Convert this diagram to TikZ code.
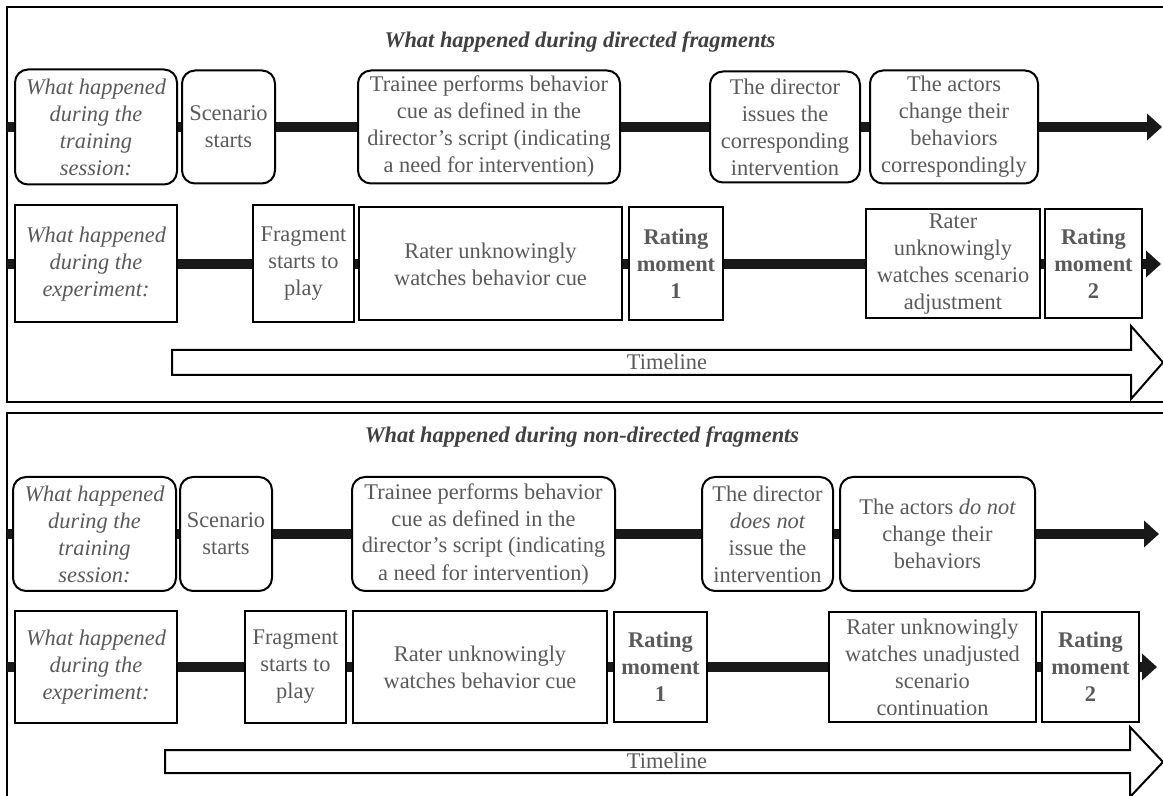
\documentclass[tikz,border=0pt]{standalone}
\usepackage{fontspec}
\setmainfont{Liberation Serif}
\usetikzlibrary{arrows.meta}
\definecolor{StepText}{HTML}{5A5A5A}
\definecolor{TitleText}{HTML}{404040}
\newcommand\stepfont{\fontsize{11.2}{13.5}\selectfont}
\tikzset{
  panel/.style={draw=black, line width=1pt},
  paneltitle/.style={font=\stepfont\bfseries\itshape, text=TitleText},
  stepround/.style={draw=black, line width=1pt, rounded corners=6.5pt, fill=white,
    align=center, text=StepText, inner sep=1pt, font=\stepfont},
  stepsquare/.style={stepround, sharp corners},
  lead/.style={font=\stepfont\itshape},
  rate/.style={font=\stepfont\bfseries},
  timebar/.style={line width=5pt, draw=black!90},
  timetip/.style={timebar, -{Triangle[length=7.5pt,width=13pt]}},
  timeline/.style={draw=black, line width=1pt, fill=white},
}
\begin{document}
\begin{tikzpicture}[x=0.5pt, y=-0.5pt]
  \useasboundingbox (0,0) rectangle (1163,796);
  \clip (0,0) rectangle (1163,796);
  % directed fragments
  \draw[panel] (7,7) rectangle (1190,402);
  \node[paneltitle] (title1) at (580,42) {What happened during directed fragments};
  \coordinate (s1) at (7,127);
  \coordinate (e1) at (1162,127);
  \node[stepround, lead, minimum width=81pt, minimum height=57.5pt] (b1) at (96,127)
    {What happened\\during the\\training\\session:};
  \node[stepround, minimum width=46.5pt, minimum height=56.5pt] (b2) at (228.5,127)
    {Scenario\\starts};
  \node[stepround, minimum width=131pt, minimum height=56.5pt] (b3) at (489,127)
    {Trainee performs behavior\\cue as defined in the\\director’s script (indicating\\a need for intervention)};
  \node[stepround, minimum width=75pt, minimum height=55.5pt] (b4) at (785,127)
    {The director\\issues the\\corresponding\\intervention};
  \node[stepround, minimum width=84pt, minimum height=56.5pt] (b5) at (954,127)
    {The actors\\change their\\behaviors\\correspondingly};
  \foreach \a/\b in {s1/b1, b1/b2, b2/b3, b3/b4, b4/b5}
    \draw[timebar] (\a) -- (\b);
  \draw[timetip] (b5) -- (e1);
  \coordinate (s2) at (7,264);
  \coordinate (e2) at (1161,264);
  \node[stepsquare, lead, minimum width=81pt, minimum height=58.5pt] (c1) at (96,264)
    {What happened\\during the\\experiment:};
  \node[stepsquare, minimum width=50.5pt, minimum height=58.5pt] (c2) at (303.5,264)
    {Fragment\\starts to\\play};
  \node[stepsquare, minimum width=131.5pt, minimum height=56.5pt] (c3) at (490.5,264)
    {Rater unknowingly\\watches behavior cue};
  \node[stepsquare, rate, minimum width=47pt, minimum height=56.5pt] (c4) at (676,264)
    {Rating\\moment\\1};
  \node[stepsquare, minimum width=87pt, minimum height=54.5pt] (c5) at (953,264)
    {Rater\\unknowingly\\watches scenario\\adjustment};
  \node[stepsquare, rate, minimum width=48.5pt, minimum height=54.5pt] (c6) at (1093.5,264)
    {Rating\\moment\\2};
  \foreach \a/\b in {s2/c1, c1/c2, c2/c3, c3/c4, c4/c5, c5/c6}
    \draw[timebar] (\a) -- (\b);
  \draw[timetip] (c6) -- (e2);
  \draw[timeline] (172,350) -- (1131,350) -- (1131,326) -- (1163,362.5)
    -- (1131,399) -- (1131,375) -- (172,375) -- cycle;
  \node[font=\stepfont, text=StepText] (time1) at (667,362) {Timeline};
  % non-directed fragments
  \draw[panel] (7,413) rectangle (1190,820);
  \node[paneltitle] (title2) at (582,437) {What happened during non-directed fragments};
  \coordinate (s3) at (7,534);
  \coordinate (e3) at (1159,534);
  \node[stepround, lead, minimum width=81.5pt, minimum height=57pt] (d1) at (94.5,534)
    {What happened\\during the\\training\\session:};
  \node[stepround, minimum width=46pt, minimum height=57pt] (d2) at (226,534)
    {Scenario\\starts};
  \node[stepround, minimum width=131.5pt, minimum height=57pt] (d3) at (483.5,534)
    {Trainee performs behavior\\cue as defined in the\\director’s script (indicating\\a need for intervention)};
  \node[stepround, minimum width=65.5pt, minimum height=57pt] (d4) at (767.5,534)
    {The director\\{\itshape does not}\\issue the\\intervention};
  \node[stepround, minimum width=97.5pt, minimum height=57pt] (d5) at (937.5,534)
    {The actors {\itshape do not}\\change their\\behaviors};
  \foreach \a/\b in {s3/d1, d1/d2, d2/d3, d3/d4, d4/d5}
    \draw[timebar] (\a) -- (\b);
  \draw[timetip] (d5) -- (e3);
  \coordinate (s4) at (7,667);
  \coordinate (e4) at (1157,667);
  \node[stepsquare, lead, minimum width=81pt, minimum height=56pt] (f1) at (96,667)
    {What happened\\during the\\experiment:};
  \node[stepsquare, minimum width=50.5pt, minimum height=56pt] (f2) at (295.5,667)
    {Fragment\\starts to\\play};
  \node[stepsquare, minimum width=127pt, minimum height=56pt] (f3) at (480,667)
    {Rater unknowingly\\watches behavior cue};
  \node[stepsquare, rate, minimum width=46.5pt, minimum height=55pt] (f4) at (660.5,667)
    {Rating\\moment\\1};
  \node[stepsquare, minimum width=103.5pt, minimum height=55pt] (f5) at (932.5,667)
    {Rater unknowingly\\watches unadjusted\\scenario\\continuation};
  \node[stepsquare, rate, minimum width=48.5pt, minimum height=55pt] (f6) at (1090.5,667)
    {Rating\\moment\\2};
  \foreach \a/\b in {s4/f1, f1/f2, f2/f3, f3/f4, f4/f5, f5/f6}
    \draw[timebar] (\a) -- (\b);
  \draw[timetip] (f6) -- (e4);
  \draw[timeline] (165,750) -- (1130,750) -- (1130,727) -- (1163,762)
    -- (1130,797) -- (1130,773) -- (165,773) -- cycle;
  \node[font=\stepfont, text=StepText] (time2) at (667,761) {Timeline};
\end{tikzpicture}
\end{document}
